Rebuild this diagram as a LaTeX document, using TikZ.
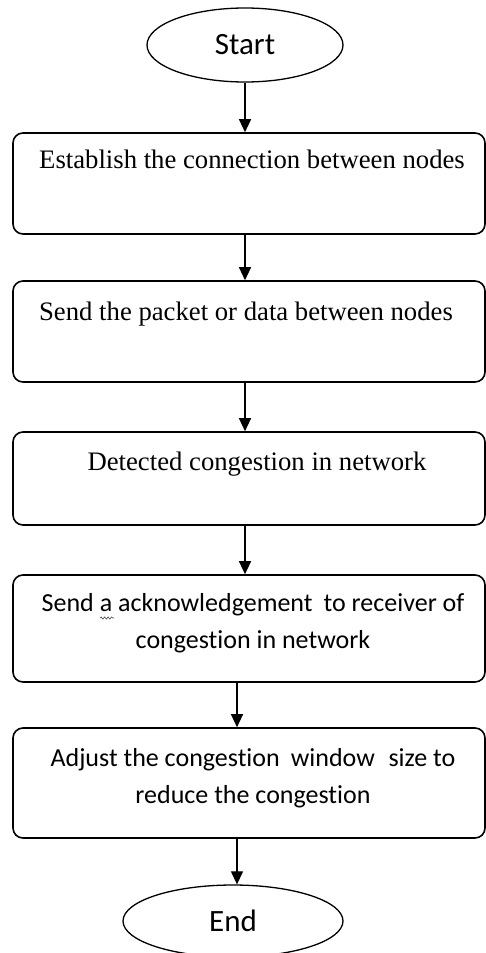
\documentclass[tikz,border=0pt]{standalone}
\usepackage{fontspec}
\setmainfont{Liberation Serif}
\newfontfamily\calibri[Ligatures={NoCommon}]{Carlito}
\usetikzlibrary{shapes.geometric,arrows.meta,decorations.pathmorphing}
\begin{document}
\begin{tikzpicture}[x=1pt,y=-1pt,
  stepbox/.style={draw, line width=1.6pt, rounded corners=10pt,
    minimum width=472pt, inner sep=0pt},
  term/.style={draw, ellipse, line width=1.3pt, inner sep=0pt,
    font=\calibri\fontsize{31}{36}\selectfont},
  serif/.style={anchor=base, inner sep=0pt, font=\fontsize{26.7}{30}\selectfont},
  sans/.style={anchor=base, inner sep=0pt, align=center,
    font=\calibri\fontsize{26}{37}\selectfont},
  flow/.style={-{Triangle[width=12pt,length=13pt]}, line width=1.2pt}]
\useasboundingbox (0,0) rectangle (486,953);

% terminals
\node[term, minimum width=196pt, minimum height=74pt] (start) at (245,45) {Start};
\node[term, minimum width=220pt, minimum height=72pt] (end) at (233,921) {End};

% process boxes
\node[stepbox, minimum height=101pt] (b1) at (249,183.5) {};
\node[stepbox, minimum height=101pt] (b2) at (249,331.5) {};
\node[stepbox, minimum height=93pt]  (b3) at (249,478.5) {};
\node[stepbox, minimum height=107pt] (b4) at (249,628.5) {};
\node[stepbox, minimum height=110pt] (b5) at (249,783) {};

% box texts (two-line texts are placed by the baseline of their last line)
\node[serif] (t1) at (252,168) {Establish the connection between nodes};
\node[serif] (t2) at (246,320) {Send the packet or data between nodes};
\node[serif] (t3) at (257,470) {Detected congestion in network};
\node[sans] (t4) at (253,648) {Send a acknowledgement\hspace{0.2em} to receiver of\\congestion in network};
\node[sans] (t5) at (253,803) {Adjust the congestion\hspace{0.2em} window\hspace{0.3em} size to\\reduce the congestion};

% proofing squiggle under the article
\draw[gray!60!black, line width=0.6pt, decorate,
  decoration={snake, amplitude=1.1pt, segment length=3.5pt}] (100,618) -- (114,618);

% connectors
\draw[flow] (start.south) -- (start.south |- b1.north);
\draw[flow] ([xshift=-4pt]b1.south) -- ([xshift=-4pt]b2.north);
\draw[flow] ([xshift=-4pt]b2.south) -- ([xshift=-4pt]b3.north);
\draw[flow] ([xshift=-4pt]b3.south) -- ([xshift=-4pt]b4.north);
\draw[flow] ([xshift=-12pt]b4.south) -- ([xshift=-12pt]b5.north);
\draw[flow] ([xshift=-12pt]b5.south) -- ([xshift=-12pt]b5.south |- end.north);
\end{tikzpicture}
\end{document}
